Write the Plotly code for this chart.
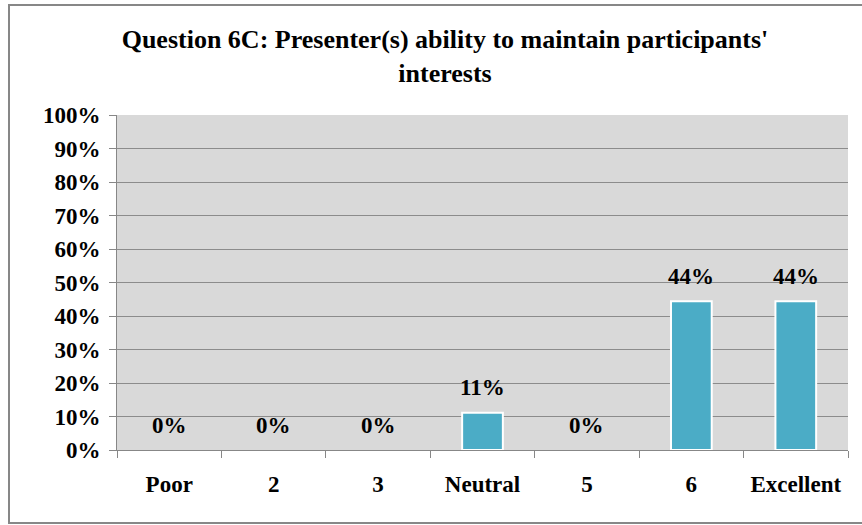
import plotly.graph_objects as go

categories = ["Poor", "2", "3", "Neutral", "5", "6", "Excellent"]
values = [0.0, 0.0, 0.0, 0.111, 0.0, 0.444, 0.444]
labels = ["0%", "0%", "0%", "11%", "0%", "44%", "44%"]
y_ticks = [0, 0.1, 0.2, 0.3, 0.4, 0.5, 0.6, 0.7, 0.8, 0.9, 1.0]
y_tick_labels = ["0%", "10%", "20%", "30%", "40%", "50%", "60%", "70%", "80%", "90%", "100%"]
title_text = "Question 6C: Presenter(s) ability to maintain participants'<br>interests"

FONT = "Liberation Serif"

fig = go.Figure()
fig.add_trace(go.Bar(
    x=categories, y=values,
    marker=dict(color="#4BACC6",
                line=dict(color="white", width=[2 if v > 0 else 0 for v in values])),
    width=0.39,
    hoverinfo="skip",
))

for i, (v, t) in enumerate(zip(values, labels)):
    fig.add_annotation(x=i, y=v, text="<b>%s</b>" % t, showarrow=False,
                       yshift=25, font=dict(family=FONT, size=23, color="black"))

W, H = 862, 525
L, R, T, B = 117, 14, 115, 75
pw, ph = W - L - R, H - T - B

def px(x):
    return (x - L) / pw

def py(y):
    return (H - B - y) / ph

fig.add_shape(type="rect", xref="paper", yref="paper",
              x0=px(9), x1=px(866), y0=py(523), y1=py(5),
              line=dict(color="#878787", width=2), fillcolor="rgba(0,0,0,0)", layer="below")

fig.update_layout(
    width=W, height=H,
    margin=dict(l=L, r=R, t=T, b=B, pad=0),
    paper_bgcolor="white",
    plot_bgcolor="#D9D9D9",
    showlegend=False,
    title=dict(text="<b>%s</b>" % title_text, x=445 / W, xanchor="center",
               y=1 - 48 / H, yanchor="middle",
               font=dict(family=FONT, size=26, color="black")),
    font=dict(family=FONT, color="black"),
)
fig.update_xaxes(
    type="category", tickson="boundaries", ticks="outside", ticklen=7,
    tickcolor="#878787", showline=True, linecolor="#878787", linewidth=1,
    showgrid=False, tickfont=dict(family=FONT, size=23, color="black", weight="bold"),
    ticklabelstandoff=13,
)
fig.update_yaxes(
    range=[0, 1.0], tickvals=y_ticks, ticktext=y_tick_labels,
    ticks="outside", ticklen=7, tickcolor="#878787",
    showline=True, linecolor="#878787", linewidth=1,
    showgrid=True, gridcolor="#8C8C8C", gridwidth=1,
    tickfont=dict(family=FONT, size=23, color="black", weight="bold"),
    ticklabelstandoff=4,
    zeroline=False,
)

fig.write_html("out.html", config={"displayModeBar": False},
               post_script="document.body.style.margin='0';document.body.style.overflow='hidden';")
